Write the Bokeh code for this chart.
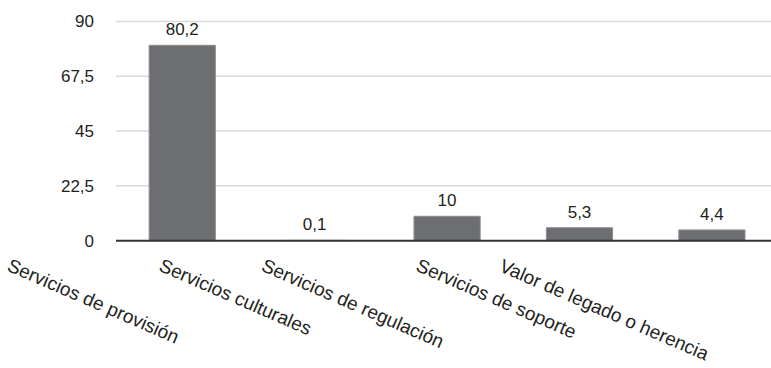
import math
from bokeh.plotting import figure
from bokeh.models import Range1d, FixedTicker, ColumnDataSource
from bokeh.core.properties import value
from bokeh.embed import file_html
from bokeh.resources import INLINE

categories = ["Servicios de provisión", "Servicios culturales", "Servicios de regulación",
              "Servicios de soporte", "Valor de legado o herencia"]
values = [80.2, 0.1, 10, 5.3, 4.4]
value_labels = ["80,2", "0,1", "10", "5,3", "4,4"]
y_ticks = [0, 22.5, 45, 67.5, 90]
y_tick_labels = ["0", "22,5", "45", "67,5", "90"]

FONT = "Liberation Sans"
TEXT_COLOR = "#231f20"
BAR_COLOR = "#6d6e71"
CAT_FONT_PX = 19
ANGLE_DEG = 23.5

# plot-area extent in category units (bars sit at 0..n-1)
X_START, X_END = -0.5, 4.45
X_LEFT_MARGIN = 0.8725   # room for the value axis, in category units

# approximate Arial / Liberation Sans advance widths (per 1000 em)
ADV = {"S": 667, "e": 556, "r": 333, "v": 500, "i": 222, "c": 500, "o": 556, "s": 500,
       " ": 278, "d": 556, "p": 556, "ó": 556, "n": 556, "u": 556, "l": 222, "t": 278,
       "a": 556, "g": 556, "V": 667, "h": 556}


def text_width(s, px):
    return sum(ADV.get(ch, 556) for ch in s) / 1000.0 * px


idx = list(range(len(categories)))
theta = math.radians(ANGLE_DEG)
cat_yoff = [14 + text_width(c, CAT_FONT_PX) * math.sin(theta) for c in categories]

src = ColumnDataSource(dict(x=idx, top=values, vlab=value_labels, cat=categories,
                            zero=[0] * len(idx), yoff=cat_yoff))

p = figure(width=771, height=368, output_backend="svg", toolbar_location=None,
           x_range=Range1d(X_START - X_LEFT_MARGIN, X_END), y_range=Range1d(-52.5, 98.6),
           min_border_left=0, min_border_right=0, min_border_top=0, min_border_bottom=0)
p.outline_line_color = None
p.background_fill_color = "white"
p.border_fill_color = "white"

p.xaxis.visible = False
p.xgrid.grid_line_color = None
p.ygrid.grid_line_color = None

p.yaxis.fixed_location = X_START
p.yaxis.ticker = FixedTicker(ticks=y_ticks)
p.yaxis.major_label_overrides = {t: l for t, l in zip(y_ticks, y_tick_labels)}
p.yaxis.axis_line_color = None
p.yaxis.major_tick_line_color = None
p.yaxis.minor_tick_line_color = None
p.yaxis.major_label_standoff = 16
p.yaxis.major_label_text_font = FONT
p.yaxis.major_label_text_font_size = "17px"
p.yaxis.major_label_text_color = TEXT_COLOR

# horizontal gridlines across the plot area
grid_src = ColumnDataSource(dict(y=y_ticks[1:], x0=[X_START] * (len(y_ticks) - 1),
                                 x1=[X_END] * (len(y_ticks) - 1)))
p.segment(x0="x0", x1="x1", y0="y", y1="y", source=grid_src,
          line_color="#d9d9d9", line_width=1.5)

p.vbar(x="x", top="top", bottom=0, width=0.5, source=src,
       fill_color=BAR_COLOR, line_color="#8e8e90", line_width=1)

# category baseline
p.segment(x0=[X_START], x1=[X_END], y0=[0], y1=[0], line_color="#333333", line_width=2)

p.text(x="x", y="top", text="vlab", source=src, text_align="center",
       text_baseline="bottom", y_offset=-10, text_font=value(FONT),
       text_font_size="17px", text_color=TEXT_COLOR)

p.text(x="x", y="zero", text="cat", source=src, text_align="right",
       text_baseline="top", angle=-theta, y_offset="yoff", text_font=value(FONT),
       text_font_size=f"{CAT_FONT_PX}px", text_color=TEXT_COLOR)

open("out.html", "w").write(file_html(p, INLINE))
